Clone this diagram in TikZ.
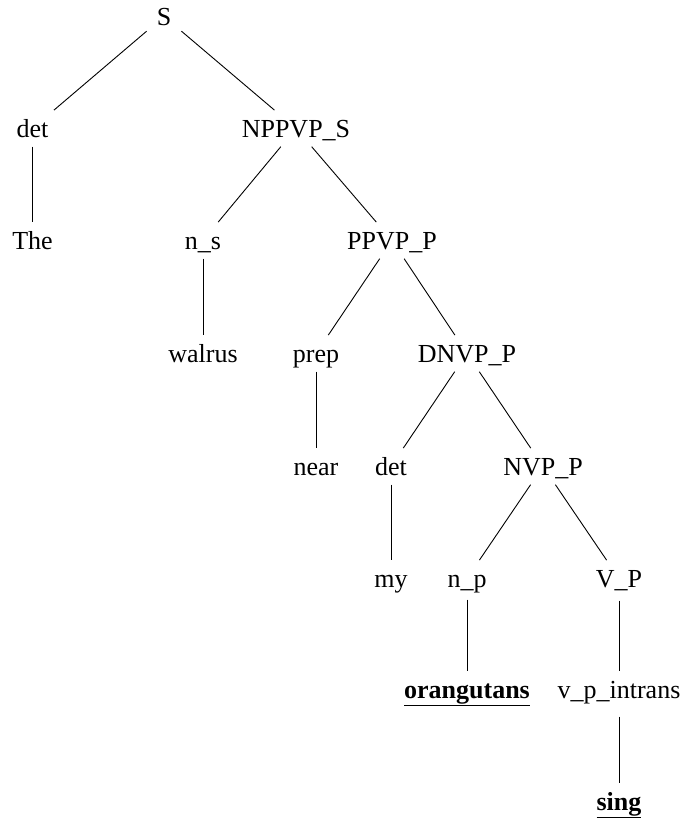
\documentclass[tikz,border=0pt]{standalone}
\usepackage{fontspec}
\setmainfont{Liberation Serif}
\begin{document}
\begin{tikzpicture}[x=1pt,y=-1pt,
  lbl/.style={anchor=base, inner xsep=10pt, inner ysep=9.5pt, text height=17.2pt, text depth=0pt, font=\fontsize{26}{30}\selectfont},
  term/.style={lbl, font=\fontsize{26}{30}\selectfont\bfseries},
  edge/.style={line width=0.9pt}]
\useasboundingbox (0,0) rectangle (683,823);
% row 0
\node[lbl] (S) at (164,25) {S};
% row 1
\node[lbl] (det1) at (32.5,137) {det};
\node[lbl] (npp) at (296,137) {NPPVP\_S};
% row 2
\node[lbl] (the) at (32.5,249) {The};
\node[lbl] (ns) at (203,249) {n\_s};
\node[lbl] (ppvp) at (392,249) {PPVP\_P};
% row 3
\node[lbl] (walrus) at (203,362) {walrus};
\node[lbl] (prep) at (316,362) {prep};
\node[lbl] (dnvp) at (467,362) {DNVP\_P};
% row 4
\node[lbl] (near) at (316,475) {near};
\node[lbl] (det2) at (391,475) {det};
\node[lbl] (nvp) at (543,475) {NVP\_P};
% row 5
\node[lbl] (my) at (391,587) {my};
\node[lbl] (np) at (467,587) {n\_p};
\node[lbl] (vp) at (619,587) {V\_P};
% row 6
\node[term] (orang) at (467,698) {\underline{orangutans}};
\node[lbl] (vpi) at (619,698) {v\_p\_intrans};
% row 7
\node[term] (sing) at (619,810) {\underline{sing}};
% edges
\draw[edge] (S) -- (det1);
\draw[edge] (S) -- (npp);
\draw[edge] (det1) -- (the);
\draw[edge] (npp) -- (ns);
\draw[edge] (npp) -- (ppvp);
\draw[edge] (ns) -- (walrus);
\draw[edge] (ppvp) -- (prep);
\draw[edge] (ppvp) -- (dnvp);
\draw[edge] (prep) -- (near);
\draw[edge] (dnvp) -- (det2);
\draw[edge] (dnvp) -- (nvp);
\draw[edge] (det2) -- (my);
\draw[edge] (nvp) -- (np);
\draw[edge] (nvp) -- (vp);
\draw[edge, shorten <=3pt] (np) -- (orang);
\draw[edge, shorten <=4pt] (vp) -- (vpi);
\draw[edge, shorten <=9pt] (vpi) -- (sing);
\end{tikzpicture}
\end{document}
